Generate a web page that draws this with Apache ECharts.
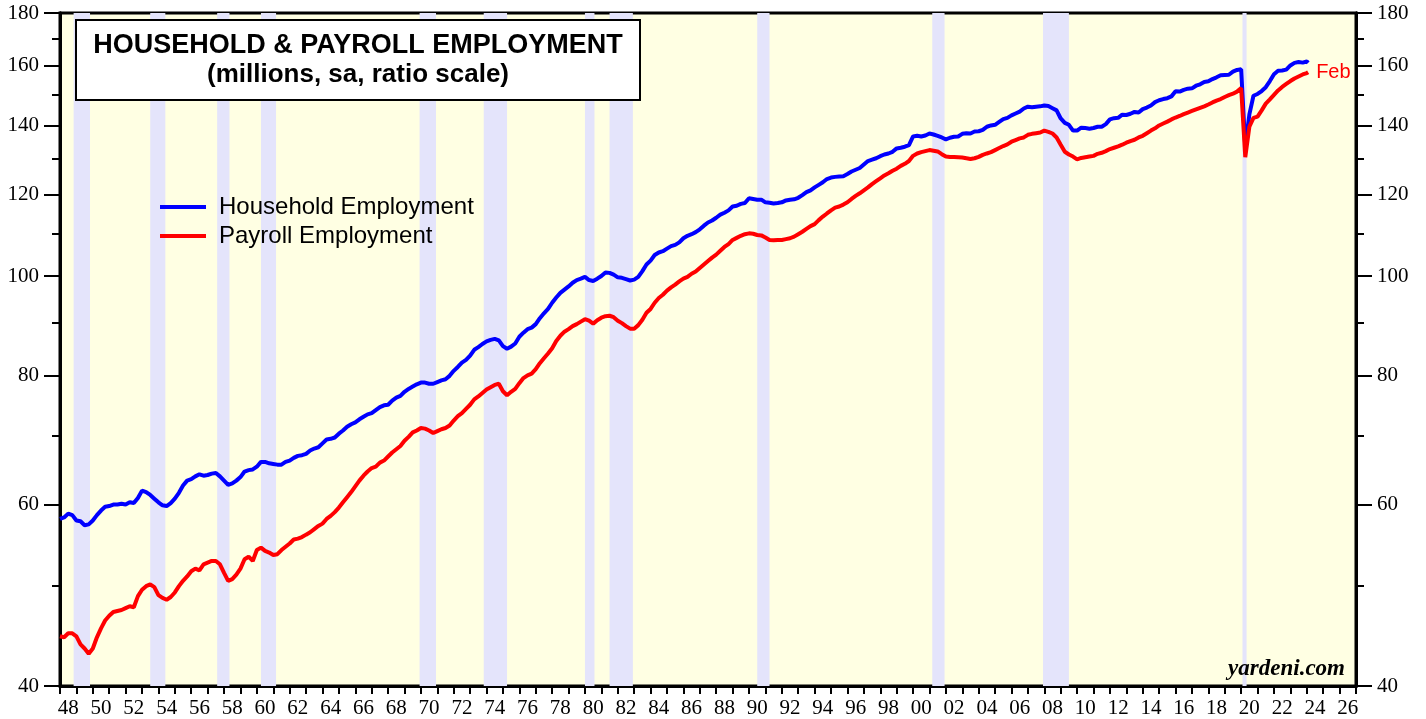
<!DOCTYPE html>
<html><head><meta charset="utf-8">
<script src="https://cdn.jsdelivr.net/npm/echarts@6/dist/echarts.min.js"></script>
<style>html,body{margin:0;padding:0;background:#fff}#c{width:1426px;height:719px}</style>
</head><body><div id="c"></div>
<script>
// ---- DATA (quarterly readings: Jan, Apr, Jul, Oct; millions, sa) ----
const startYear = 1948;
const household = [
  58.1, 58.3, 58.8, 58.6,   57.9, 57.8, 57.3, 57.4,   57.9, 58.6, 59.2, 59.7,   59.8, 60.0, 60.0, 60.1,
  60.0, 60.3, 60.2, 60.9,   61.9, 61.7, 61.3, 60.8,   60.3, 59.9, 59.8, 60.2,   60.8, 61.6, 62.6, 63.3,
  63.5, 63.9, 64.2, 64.0,   64.1, 64.3, 64.4, 63.9,   63.3, 62.7, 62.9, 63.3,   63.8, 64.6, 64.8, 64.9,
  65.3, 66.0, 66.0, 65.8,   65.7, 65.6, 65.6, 66.0,   66.2, 66.6, 66.9, 67.0,   67.2, 67.7, 68.0, 68.2,
  68.8, 69.4, 69.5, 69.7,   70.3, 70.8, 71.4, 71.8,   72.1, 72.6, 73.0, 73.4,   73.6, 74.1, 74.6, 74.9,
  75.0, 75.7, 76.2, 76.5,   77.2, 77.7, 78.1, 78.5,   78.8, 78.8, 78.6, 78.6,   78.9, 79.2, 79.4, 80.0,
  80.9, 81.6, 82.4, 82.9,   83.7, 84.8, 85.3, 85.9,   86.4, 86.7, 86.9, 86.6,   85.5, 85.0, 85.4, 86.0,
  87.3, 88.1, 88.8, 89.1,   89.8, 91.0, 92.0, 92.9,   94.2, 95.3, 96.3, 97.0,   97.7, 98.5, 99.1, 99.4,
  99.8, 99.1, 98.9, 99.4,   100.0, 100.8, 100.7, 100.3, 99.7, 99.6, 99.3, 99.0,  99.2, 99.8, 101.1, 102.6,
  103.5, 104.8, 105.4, 105.7, 106.3, 106.9, 107.2, 107.8, 108.8, 109.4, 109.8, 110.3, 111.0, 111.9, 112.7, 113.2,
  113.9, 114.7, 115.2, 115.8, 116.8, 117.0, 117.5, 117.7, 119.0, 118.8, 118.6, 118.6, 117.9, 117.8, 117.6, 117.7,
  117.9, 118.4, 118.6, 118.7, 119.1, 119.8, 120.6, 121.1, 121.9, 122.6, 123.3, 124.2, 124.6, 124.8, 124.9, 125.0,
  125.6, 126.3, 126.8, 127.3, 128.3, 129.3, 129.7, 130.1, 130.7, 131.2, 131.5, 132.0, 133.0, 133.2, 133.5, 134.0,
  136.6, 136.8, 136.6, 136.9, 137.5, 137.2, 136.8, 136.3, 135.7, 136.2, 136.5, 136.6, 137.4, 137.6, 137.5, 138.1,
  138.2, 138.6, 139.6, 140.0, 140.2, 141.1, 142.0, 142.4, 143.2, 143.8, 144.4, 145.4, 146.0, 145.8, 146.0, 146.1,
  146.4, 146.2, 145.5, 144.8, 142.2, 140.8, 140.2, 138.4, 138.4, 139.3, 139.2, 139.0, 139.2, 139.6, 139.6, 140.4,
  141.9, 142.3, 142.4, 143.4, 143.3, 143.7, 144.3, 144.1, 145.2, 145.7, 146.4, 147.5, 148.1, 148.5, 148.8, 149.4,
  151.1, 151.0, 151.6, 152.0, 152.1, 153.0, 153.5, 154.3, 154.5, 155.3, 155.9, 156.6, 156.7, 156.8, 157.9, 158.5,
  158.7, 133.4, 143.5, 149.6, 150.2, 151.2, 152.5, 154.6, 157.0, 158.2, 158.3, 158.6, 160.1, 161.0, 161.3, 161.1,
  161.5
];
const payroll = [
  44.7, 44.6, 45.0, 45.0,   44.7, 43.9, 43.5, 43.0,   43.5, 44.6, 45.5, 46.3,   46.8, 47.2, 47.3, 47.4,
  47.6, 47.8, 47.7, 48.9,   49.6, 50.0, 50.2, 49.9,   49.0, 48.7, 48.5, 48.8,   49.3, 50.0, 50.6, 51.1,
  51.7, 52.0, 51.8, 52.5,   52.7, 52.9, 52.9, 52.5,   51.5, 50.6, 50.8, 51.3,   52.0, 53.1, 53.4, 52.9,
  54.2, 54.5, 54.1, 53.9,   53.6, 53.7, 54.2, 54.6,   55.0, 55.5, 55.6, 55.8,   56.1, 56.4, 56.8, 57.2,
  57.5, 58.1, 58.5, 59.0,   59.6, 60.3, 61.0, 61.7,   62.5, 63.3, 64.0, 64.6,   65.1, 65.3, 65.9, 66.2,
  66.8, 67.4, 67.9, 68.4,   69.2, 69.8, 70.5, 70.8,   71.2, 71.1, 70.8, 70.4,   70.7, 71.0, 71.2, 71.6,
  72.4, 73.1, 73.6, 74.3,   75.0, 75.9, 76.4, 77.0,   77.6, 78.0, 78.4, 78.6,   77.3, 76.6, 77.2, 77.7,
  78.7, 79.6, 80.1, 80.4,   81.2, 82.3, 83.2, 84.1,   85.1, 86.5, 87.5, 88.3,   88.8, 89.4, 89.8, 90.3,
  90.8, 90.5, 89.9, 90.6,   91.1, 91.4, 91.5, 91.2,   90.5, 90.0, 89.4, 88.9,   88.9, 89.6, 90.7, 92.1,
  92.9, 94.2, 95.2, 95.9,   96.8, 97.5, 98.1, 98.8,   99.4, 99.8, 100.5, 101.0, 101.8, 102.6, 103.4, 104.2,
  104.9, 105.8, 106.7, 107.4, 108.4, 108.9, 109.4, 109.8, 110.0, 109.9, 109.6, 109.5, 109.0, 108.4, 108.3, 108.4,
  108.4, 108.6, 108.8, 109.2, 109.8, 110.4, 111.1, 111.8, 112.3, 113.3, 114.2, 115.0, 115.8, 116.5, 116.8, 117.3,
  117.9, 118.8, 119.6, 120.3, 121.1, 121.9, 122.8, 123.6, 124.4, 125.2, 125.8, 126.5, 127.1, 127.9, 128.5, 129.3,
  130.8, 131.5, 131.9, 132.2, 132.5, 132.3, 132.1, 131.3, 130.6, 130.5, 130.5, 130.4, 130.3, 130.1, 129.9, 130.1,
  130.5, 131.1, 131.5, 131.9, 132.5, 133.1, 133.7, 134.2, 135.0, 135.5, 136.0, 136.3, 137.1, 137.4, 137.6, 137.8,
  138.4, 138.0, 137.5, 136.3, 134.1, 132.0, 131.2, 130.6, 129.8, 130.2, 130.4, 130.6, 130.8, 131.4, 131.7, 132.2,
  132.8, 133.2, 133.6, 134.1, 134.7, 135.2, 135.6, 136.3, 136.8, 137.6, 138.4, 139.1, 140.0, 140.6, 141.2, 141.9,
  142.5, 143.0, 143.6, 144.1, 144.6, 145.1, 145.6, 146.1, 146.7, 147.4, 148.0, 148.5, 149.2, 149.8, 150.3, 151.0,
  152.2, 130.4, 139.6, 142.4, 142.8, 144.8, 147.0, 148.4, 149.9, 151.4, 152.6, 153.6, 154.6, 155.5, 156.2, 156.9,
  157.4
];
const lastMonthTime = 2024 + 1 / 12;   // Feb 2024
const householdLast = 161.0;
const payrollLast = 157.7;
const lastLabel = 'Feb';
const recessions = [
  [1948.83, 1949.83], [1953.50, 1954.42], [1957.58, 1958.33], [1960.25, 1961.17],
  [1969.92, 1970.92], [1973.83, 1975.25], [1980.00, 1980.58], [1981.50, 1982.92],
  [1990.50, 1991.25], [2001.17, 2001.92], [2007.92, 2009.50], [2020.08, 2020.33]
];
const firstYear = 1948, lastYear = 2026;
const yearLabels = [];
for (let y = firstYear; y <= lastYear; y++) yearLabels.push(String(y).slice(2));
const yLabelTicks = [40, 60, 80, 100, 120, 140, 160, 180];
const yMinorTicks = [50, 70, 90, 110, 130, 150, 170];
const seriesNames = ['Household Employment', 'Payroll Employment'];
const titleLines = ['HOUSEHOLD & PAYROLL EMPLOYMENT', '(millions, sa, ratio scale)'];

// ---- BUILD ----
const hhData = household.map((v, i) => [startYear + i / 4, v]);
hhData.push([lastMonthTime, householdLast]);
const prData = payroll.map((v, i) => [startYear + i / 4, v]);
prData.push([lastMonthTime, payrollLast]);

function yAx(pos, ticks, len, labels) {
  return {
    type: 'log', logBase: 10, min: 40, max: 180, position: pos, offset: 0,
    axisLine: { show: true, lineStyle: { color: '#000', width: 3 } },
    axisTick: { show: true, length: len, customValues: ticks, lineStyle: { color: '#000', width: 2 } },
    axisLabel: { show: labels, customValues: ticks, margin: 21, color: '#000',
      fontFamily: 'Liberation Serif', fontSize: 21 },
    splitLine: { show: false }, minorTick: { show: false }
  };
}

const chart = echarts.init(document.getElementById('c'), null, { renderer: 'canvas' });
chart.setOption({
  animation: false,
  backgroundColor: '#fff',
  grid: { left: 60, right: 70, top: 13, bottom: 33, show: true,
    backgroundColor: '#ffffe3', borderColor: '#000', borderWidth: 3 },
  xAxis: [
    { type: 'category', data: yearLabels, boundaryGap: true, position: 'bottom',
      axisLine: { show: true, lineStyle: { color: '#000', width: 3 } },
      axisTick: { show: true, interval: 0, length: 8, lineStyle: { color: '#000', width: 2 } },
      axisLabel: { interval: 1, margin: 12, color: '#000', fontFamily: 'Liberation Serif', fontSize: 21 },
      splitLine: { show: false } },
    { type: 'value', min: firstYear, max: lastYear + 1, show: false }
  ],
  yAxis: [
    yAx('left', yLabelTicks, 16, true),
    yAx('left', yMinorTicks, 8, false),
    yAx('right', yLabelTicks, 16, true),
    yAx('right', yMinorTicks, 8, false)
  ],
  legend: {
    data: seriesNames, orient: 'vertical', left: 160, top: 195, itemGap: 5, padding: 0,
    itemWidth: 46, itemHeight: 4, icon: 'rect',
    textStyle: { color: '#000', fontFamily: 'Liberation Sans', fontSize: 24, padding: [0, 0, 0, 8] }
  },
  series: [
    { name: 'recessions', type: 'line', xAxisIndex: 1, yAxisIndex: 0, data: [], z: 1, silent: true,
      markArea: { silent: true, itemStyle: { color: '#e4e4fb' },
        data: recessions.map(r => [{ xAxis: r[0] }, { xAxis: r[1] }]) } },
    { name: seriesNames[0], type: 'line', xAxisIndex: 1, yAxisIndex: 0, data: hhData, z: 3,
      showSymbol: false, color: '#0000ff', lineStyle: { color: '#0000ff', width: 4 } },
    { name: seriesNames[1], type: 'line', xAxisIndex: 1, yAxisIndex: 0, data: prData, z: 4,
      showSymbol: false, color: '#ff0000', lineStyle: { color: '#ff0000', width: 4 },
      endLabel: { show: true, formatter: lastLabel, color: '#ff0000', fontFamily: 'Liberation Sans',
        fontSize: 20, distance: 8 } }
  ],
  graphic: [
    { type: 'rect', z: 100, shape: { x: 76, y: 20, width: 564, height: 80 },
      style: { fill: '#fff', stroke: '#000', lineWidth: 2 } },
    { type: 'text', z: 101, x: 358, y: 46, style: { text: titleLines[0], fill: '#000',
      font: 'bold 27px "Liberation Sans"', textAlign: 'center', textVerticalAlign: 'middle' } },
    { type: 'text', z: 101, x: 358, y: 75, style: { text: titleLines[1], fill: '#000',
      font: 'bold 26px "Liberation Sans"', textAlign: 'center', textVerticalAlign: 'middle' } },
    { type: 'text', z: 101, x: 1345, y: 669, style: { text: 'yardeni.com', fill: '#000',
      font: 'italic bold 23px "Liberation Serif"', textAlign: 'right', textVerticalAlign: 'middle' } }
  ]
});
</script></body></html>
